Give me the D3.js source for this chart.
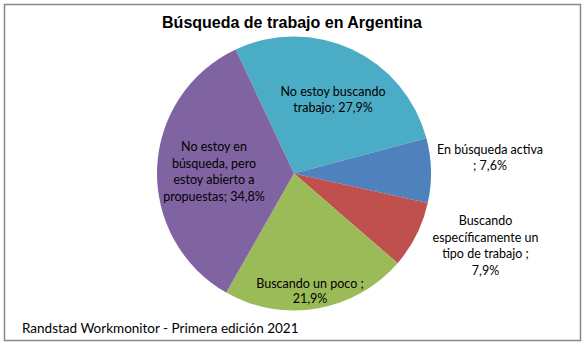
<!DOCTYPE html>
<html><head><meta charset="utf-8">
<script src="https://cdn.jsdelivr.net/npm/d3@7"></script>
<style>body{margin:0;background:#fff}svg{display:block}</style>
</head><body>
<script>
const categories = ["No estoy buscando trabajo", "En búsqueda activa", "Buscando específicamente un tipo de trabajo", "Buscando un poco", "No estoy en búsqueda, pero estoy abierto a propuestas"];
const values = [27.9, 7.6, 7.9, 21.9, 34.8];
const labelLines = [
  ["No estoy buscando", "trabajo; 27,9%"],
  ["En búsqueda activa", "; 7,6%"],
  ["Buscando", "específicamente un", "tipo de trabajo ;", "7,9%"],
  ["Buscando un poco ;", "21,9%"],
  ["No estoy en", "búsqueda, pero", "estoy abierto a", "propuestas; 34,8%"]
];
const colors = ["#4BACC6", "#4F81BD", "#C0504D", "#9BBB59", "#8064A2"];
const title = "Búsqueda de trabajo en Argentina";
const footer = "Randstad Workmonitor - Primera edición 2021";

const W = 584, H = 346;
const cx = 294, cy = 173.5, R = 137;
const start = -25.2 * Math.PI / 180;

const svg = d3.select("body").append("svg").attr("width", W).attr("height", H);
svg.append("rect").attr("width", W).attr("height", H).attr("fill", "#fff");
svg.append("rect").attr("x", 4.5).attr("y", 4.5).attr("width", 576).attr("height", 336)
  .attr("fill", "none").attr("stroke", "#878787").attr("stroke-width", 1.5);

svg.append("text").attr("x", 292).attr("y", 28).attr("text-anchor", "middle")
  .attr("font-family", "Liberation Sans, Arial, sans-serif").attr("font-weight", "bold")
  .attr("font-size", 16).attr("fill", "#000").text(title);

const pie = d3.pie().sort(null).value(d => d).startAngle(start).endAngle(start + 2 * Math.PI);
const arcs = pie(values);
const arc = d3.arc().innerRadius(0).outerRadius(R);
const g = svg.append("g").attr("transform", `translate(${cx},${cy})`);
g.selectAll("path").data(arcs).join("path")
  .attr("d", arc).attr("fill", (d, i) => colors[i]);

// label anchor positions (center x, first line center y) relative to the pie
const labelPos = [
  [cx + 39, cy - 82],
  [cx + 196, cy - 24.5],
  [cx + 191.5, cy + 47],
  [cx + 16, cy + 110],
  [cx - 80, cy - 27]
];
const lineH = [15.5, 16, 16.5, 15, 16.5];
labelLines.forEach((lines, i) => {
  const t = svg.append("text").attr("text-anchor", "middle")
    .attr("font-family", "Lato, 'Open Sans', sans-serif").attr("font-size", 12.5).attr("fill", "#000");
  lines.forEach((s, j) => {
    t.append("tspan").attr("x", labelPos[i][0]).attr("y", labelPos[i][1] + j * lineH[i] + 4.5).text(s);
  });
});

svg.append("text").attr("x", 22).attr("y", 333)
  .attr("font-family", "Lato, 'Open Sans', sans-serif").attr("font-size", 13.5).attr("fill", "#000").text(footer);
</script>
</body></html>
